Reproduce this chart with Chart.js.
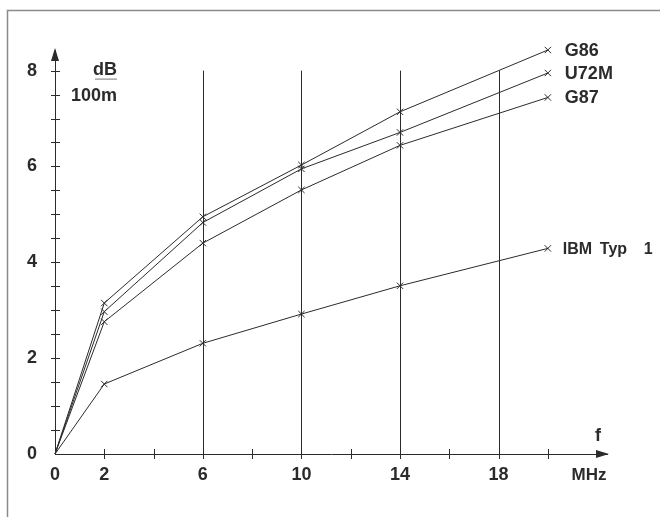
<!DOCTYPE html>
<html>
<head>
<meta charset="utf-8">
<script src="https://cdn.jsdelivr.net/npm/chart.js@4/dist/chart.umd.min.js"></script>
<style>
  html, body { margin: 0; padding: 0; background: #ffffff; }
  #wrap { width: 660px; height: 517px; }
</style>
</head>
<body>
<div id="wrap"><canvas id="c" width="660" height="517"></canvas></div>
<script>
// ---- Data ----
const frequencies = [0, 2, 6, 10, 14, 20];          // MHz
const seriesNames = ["G86", "U72M", "G87", "IBM Typ 1"];
const g86  = [0, 3.15, 4.95, 6.03, 7.14, 8.43];
const u72m = [0, 2.97, 4.83, 5.95, 6.71, 7.95];
const g87  = [0, 2.76, 4.40, 5.51, 6.44, 7.44];
const ibm  = [0, 1.46, 2.31, 2.92, 3.51, 4.29];
const xTickValues = [0, 2, 4, 6, 8, 10, 12, 14, 16, 18, 20];
const xTickLabels = ["0", "2", "", "6", "", "10", "", "14", "", "18", ""];
const yTickValues = [0, 0.5, 1, 1.5, 2, 2.5, 3, 3.5, 4, 4.5, 5, 5.5, 6, 6.5, 7, 7.5, 8];
const yLabelled = [0, 2, 4, 6, 8];
const gridLines = [6, 10, 14, 18];
const yUnitTop = "dB", yUnitBottom = "100m";
const xUnit = "MHz", xSymbol = "f";

const INK = "#2b2b2b";
const FONT = "'Liberation Sans', Arial, Helvetica, sans-serif";

const allSeries = [g86, u72m, g87, ibm];
const datasets = allSeries.map((vals, i) => ({
  label: seriesNames[i],
  data: frequencies.map((f, j) => ({ x: f, y: vals[j] })),
  borderColor: INK,
  borderWidth: 1,
  backgroundColor: INK,
  pointStyle: "crossRot",
  pointRadius: (ctx) => (ctx.raw && ctx.raw.x === 0 ? 0 : 4.5),
  pointBorderWidth: 1,
  pointBorderColor: INK,
  tension: 0,
  clip: false
}));

const decorPlugin = {
  id: "decor",
  beforeDraw(chart) {
    const ctx = chart.ctx;
    ctx.save();
    ctx.fillStyle = "#ffffff";
    ctx.fillRect(0, 0, chart.width, chart.height);
    // frame (left and top only, as in the scan)
    ctx.strokeStyle = "#8a8a8a";
    ctx.lineWidth = 1.5;
    ctx.beginPath();
    ctx.moveTo(7.5, chart.height);
    ctx.lineTo(7.5, 10.5);
    ctx.lineTo(chart.width, 10.5);
    ctx.stroke();
    ctx.restore();
  },
  beforeDatasetsDraw(chart) {
    const ctx = chart.ctx;
    const xs = chart.scales.x, ys = chart.scales.y;
    ctx.save();
    ctx.strokeStyle = INK;
    ctx.lineWidth = 1;
    // vertical grid lines from 0 to 8
    gridLines.forEach(v => {
      const px = Math.round(xs.getPixelForValue(v)) + 0.5;
      ctx.beginPath();
      ctx.moveTo(px, ys.getPixelForValue(0));
      ctx.lineTo(px, ys.getPixelForValue(8));
      ctx.stroke();
    });
    // tick marks crossing the axes
    const x0 = xs.getPixelForValue(0), y0 = ys.getPixelForValue(0);
    yTickValues.forEach(v => {
      if (v === 0) return;
      const py = Math.round(ys.getPixelForValue(v)) + 0.5;
      ctx.beginPath();
      ctx.moveTo(x0 - 4, py);
      ctx.lineTo(x0 + 5, py);
      ctx.stroke();
    });
    xTickValues.forEach(v => {
      if (v === 0) return;
      const px = Math.round(xs.getPixelForValue(v)) + 0.5;
      ctx.beginPath();
      ctx.moveTo(px, y0 - 5);
      ctx.lineTo(px, y0 + 5);
      ctx.stroke();
    });
    // arrow heads
    ctx.fillStyle = INK;
    const yTop = ys.getPixelForValue(ys.max);
    ctx.beginPath();
    ctx.moveTo(x0, yTop - 2);
    ctx.lineTo(x0 - 4, yTop + 11);
    ctx.lineTo(x0 + 4, yTop + 11);
    ctx.closePath();
    ctx.fill();
    const xRight = xs.getPixelForValue(xs.max);
    ctx.beginPath();
    ctx.moveTo(xRight + 2, y0);
    ctx.lineTo(xRight - 11, y0 - 4);
    ctx.lineTo(xRight - 11, y0 + 4);
    ctx.closePath();
    ctx.fill();
    ctx.restore();
  },
  afterDraw(chart) {
    const ctx = chart.ctx;
    const xs = chart.scales.x, ys = chart.scales.y;
    ctx.save();
    ctx.fillStyle = INK;
    ctx.textBaseline = "middle";
    // series labels at the end of each curve
    allSeries.forEach((vals, i) => {
      const last = vals.length - 1;
      const px = xs.getPixelForValue(frequencies[last]) + 17;
      const py = ys.getPixelForValue(vals[last]) + 1;
      ctx.textAlign = "left";
      if (seriesNames[i].indexOf(" ") >= 0) {
        ctx.font = "bold 16px " + FONT;
        const parts = seriesNames[i].split(" ");
        const offs = [0, 37, 81];
        parts.forEach((p, k) => ctx.fillText(p, px - 2 + offs[k], py));
      } else {
        ctx.font = "bold 18px " + FONT;
        ctx.fillText(seriesNames[i], px, py);
      }
    });
    // y unit
    ctx.font = "bold 18px " + FONT;
    const y0 = ys.getPixelForValue(0);
    ctx.textAlign = "right";
    const y8 = ys.getPixelForValue(8);
    ctx.fillText(yUnitTop, 117, y8 - 1);
    ctx.strokeStyle = "#777";
    ctx.lineWidth = 1;
    ctx.beginPath();
    ctx.moveTo(95, y8 + 8.5);
    ctx.lineTo(117, y8 + 8.5);
    ctx.stroke();
    ctx.fillText(yUnitBottom, 117, y8 + 25);
    // x unit
    ctx.textAlign = "center";
    ctx.fillText(xSymbol, 598, y0 - 18);
    ctx.font = "bold 17px " + FONT;
    ctx.fillText(xUnit, 589, y0 + 21);
    ctx.restore();
  }
};

new Chart(document.getElementById("c"), {
  type: "line",
  data: { datasets },
  options: {
    responsive: false,
    animation: false,
    devicePixelRatio: 1,
    layout: { padding: { left: 0, right: 53, top: 50, bottom: 0 } },
    plugins: { legend: { display: false }, tooltip: { enabled: false } },
    scales: {
      x: {
        type: "linear",
        min: 0,
        max: 22.4,
        afterBuildTicks: (s) => { s.ticks = xTickValues.map(v => ({ value: v })); },
        afterFit: (s) => { s.height = 63; },
        ticks: {
          autoSkip: false,
          maxRotation: 0,
          padding: 10,
          color: INK,
          font: { family: FONT, size: 18, weight: "bold" },
          callback: (v) => { const i = xTickValues.indexOf(v); return i >= 0 ? xTickLabels[i] : ""; }
        },
        grid: { display: false, drawTicks: false },
        border: { display: true, color: INK, width: 1 }
      },
      y: {
        type: "linear",
        min: 0,
        max: 8.43,
        afterBuildTicks: (s) => { s.ticks = yTickValues.map(v => ({ value: v })); },
        afterFit: (s) => { s.width = 55; },
        ticks: {
          autoSkip: false,
          padding: 18,
          color: INK,
          font: { family: FONT, size: 18, weight: "bold" },
          callback: (v) => (yLabelled.indexOf(v) >= 0 ? String(v) : "")
        },
        grid: { display: false, drawTicks: false },
        border: { display: true, color: INK, width: 1 }
      }
    }
  },
  plugins: [decorPlugin]
});
</script>
</body>
</html>
